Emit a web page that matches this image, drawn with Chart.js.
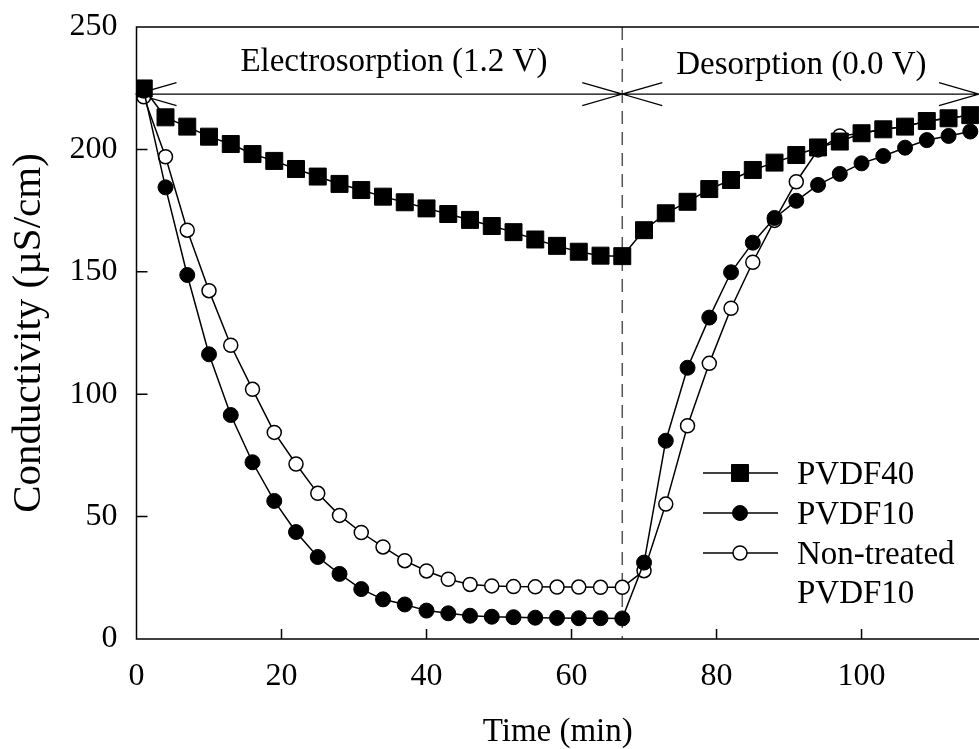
<!DOCTYPE html>
<html>
<head>
<meta charset="utf-8">
<script src="https://cdn.jsdelivr.net/npm/chart.js@4.4.0/dist/chart.umd.min.js"></script>
<style>
  html, body { margin: 0; padding: 0; background: #fff; overflow: hidden; }
  canvas { display: block; }
</style>
</head>
<body>
<canvas id="conductivityChart" width="979" height="749"></canvas>
<script>
// --- data ---
const times = [1, 4, 7, 10, 13, 16, 19, 22, 25, 28, 31, 34, 37, 40, 43, 46, 49, 52, 55, 58, 61, 64, 67,
               70, 73, 76, 79, 82, 85, 88, 91, 94, 97, 100, 103, 106, 109, 112, 115];

const pvdf40 = [224.9, 213.1, 209.3, 205.2, 202.2, 198.1, 195.3, 192, 188.9, 185.9, 183.4, 180.7, 178.4, 175.9,
                173.6, 171.2, 168.7, 166.2, 163.2, 160.6, 158.2, 156.6, 156.4,
                167, 173.9, 178.6, 183.8, 187.5, 191.6, 194.6, 197.7, 200.8, 203.2, 206.6, 208.2, 209.3, 211.6, 212.7, 214];

const pvdf10 = [224, 184.5, 148.7, 116.3, 91.5, 72.2, 56.4, 43.7, 33.5, 26.6, 20.4, 16.2, 14.1, 11.6,
                10.5, 9.5, 9.1, 8.9, 8.7, 8.6, 8.5, 8.5, 8.4,
                31.2, 81, 110.8, 131.3, 149.8, 161.9, 172, 179, 185.5, 190, 194.3, 197.3, 200.7, 203.8, 205.5, 207.3];

const nonTreated = [221.5, 197, 167, 142.3, 120, 102, 84.4, 71.5, 59.5, 50.5, 43.5, 37.6, 32, 27.8,
                    24.4, 22.3, 21.7, 21.4, 21.3, 21.2, 21.2, 21.1, 21.1,
                    27.9, 55.1, 87.1, 112.6, 135.1, 153.9, 171, 186.8, 199.8, 205.5, 206.6, 208.2, 209.3, 211.6, 212.7, 214];

const xTicks = [0, 20, 40, 60, 80, 100];
const yTicks = [0, 50, 100, 150, 200, 250];

const switchTime = 67;          // potential switched off here (dashed line)
const arrowLevel = 222.6;       // conductivity level of the phase arrows
const phaseLabels = ['Electrosorption (1.2 V)', 'Desorption (0.0 V)'];
const phaseLabelTimes = [35.5, 91.7];

const seriesNames = [['PVDF40'], ['PVDF10'], ['Non-treated', 'PVDF10']];

const serif = "'Liberation Serif', 'Times New Roman', serif";

const toPoints = values => times.map((t, i) => ({ x: t, y: values[i] }));

// --- extra drawing: frame, inner ticks, phase arrows, legend ---
const figurePlugin = {
    id: 'figureExtras',
    beforeDatasetsDraw(chart) {
        const { ctx, chartArea, scales: { x, y } } = chart;
        const sx = x.getPixelForValue(switchTime);
        ctx.save();
        // dashed switch line
        ctx.strokeStyle = '#555';
        ctx.lineWidth = 1.5;
        ctx.setLineDash([13, 8]);
        ctx.beginPath();
        ctx.moveTo(sx, chartArea.top);
        ctx.lineTo(sx, chartArea.bottom);
        ctx.stroke();
        ctx.setLineDash([]);

        // phase arrows
        const ay = y.getPixelForValue(arrowLevel);
        const left = x.getPixelForValue(0);
        const right = chartArea.right;
        ctx.strokeStyle = '#000';
        ctx.lineWidth = 1.2;
        ctx.beginPath();
        ctx.moveTo(left, ay);
        ctx.lineTo(right, ay);
        const head = (tip, dir) => {
            ctx.moveTo(tip - dir * 40, ay - 11.5);
            ctx.lineTo(tip, ay);
            ctx.lineTo(tip - dir * 40, ay + 11.5);
        };
        head(left, -1);
        head(sx, 1);
        head(sx, -1);
        head(right, 1);
        ctx.stroke();

        ctx.fillStyle = '#000';
        ctx.font = '33px ' + serif;
        ctx.textAlign = 'center';
        ctx.textBaseline = 'alphabetic';
        ctx.fillText(phaseLabels[0], x.getPixelForValue(phaseLabelTimes[0]), 71);
        ctx.fillText(phaseLabels[1], x.getPixelForValue(phaseLabelTimes[1]), 74);
        ctx.restore();
    },
    afterDraw(chart) {
        const { ctx, chartArea, scales: { x, y } } = chart;
        ctx.save();
        ctx.strokeStyle = '#000';
        ctx.lineWidth = 1.5;
        ctx.beginPath();
        // frame (right side falls outside the picture)
        ctx.moveTo(chartArea.right, chartArea.top);
        ctx.lineTo(chartArea.left, chartArea.top);
        ctx.lineTo(chartArea.left, chartArea.bottom);
        ctx.lineTo(chartArea.right, chartArea.bottom);
        // inner ticks
        xTicks.forEach(v => {
            const px = x.getPixelForValue(v);
            ctx.moveTo(px, chartArea.bottom);
            ctx.lineTo(px, chartArea.bottom - 10);
        });
        yTicks.forEach(v => {
            const py = y.getPixelForValue(v);
            ctx.moveTo(chartArea.left, py);
            ctx.lineTo(chartArea.left + 11, py);
        });
        ctx.stroke();

        // legend
        const rows = [473, 513, 553];
        ctx.font = '33px ' + serif;
        ctx.textAlign = 'left';
        ctx.textBaseline = 'alphabetic';
        chart.data.datasets.forEach((ds, i) => {
            const ly = rows[i];
            ctx.strokeStyle = '#000';
            ctx.lineWidth = 1.5;
            ctx.beginPath();
            ctx.moveTo(703, ly);
            ctx.lineTo(778, ly);
            ctx.stroke();
            ctx.fillStyle = ds.pointBackgroundColor;
            ctx.strokeStyle = ds.pointBorderColor;
            ctx.lineWidth = ds.pointBorderWidth;
            Chart.helpers.drawPoint(ctx, {
                pointStyle: ds.pointStyle,
                radius: ds.pointRadius,
                rotation: 0,
                borderWidth: ds.pointBorderWidth
            }, 740, ly);
            ctx.fillStyle = '#000';
            seriesNames[i].forEach((line, k) => {
                ctx.fillText(line, 797, ly + 11 + k * 39);
            });
        });
        ctx.restore();
    }
};

const ctx = document.getElementById('conductivityChart').getContext('2d');
new Chart(ctx, {
    type: 'line',
    data: {
        datasets: [{
            label: 'PVDF40',
            data: toPoints(pvdf40),
            borderColor: '#000',
            borderWidth: 1.5,
            pointStyle: 'rect',
            pointRadius: 12,
            pointBackgroundColor: '#000',
            pointBorderColor: '#000',
            pointBorderWidth: 1,
            order: 0
        }, {
            label: 'PVDF10',
            data: toPoints(pvdf10),
            borderColor: '#000',
            borderWidth: 1.5,
            pointStyle: 'circle',
            pointRadius: 7.5,
            pointBackgroundColor: '#000',
            pointBorderColor: '#000',
            pointBorderWidth: 1,
            order: 1
        }, {
            label: 'Non-treated PVDF10',
            data: toPoints(nonTreated),
            borderColor: '#000',
            borderWidth: 1.5,
            pointStyle: 'circle',
            pointRadius: 7,
            pointBackgroundColor: '#fff',
            pointBorderColor: '#000',
            pointBorderWidth: 1.5,
            order: 2
        }]
    },
    options: {
        responsive: false,
        animation: false,
        layout: { autoPadding: false, padding: { top: 27, right: 0, bottom: 0, left: 0 } },
        elements: { line: { tension: 0 } },
        plugins: {
            legend: { display: false },
            tooltip: { enabled: false }
        },
        scales: {
            x: {
                type: 'linear',
                min: 0,
                max: 116.2,
                afterBuildTicks: s => { s.ticks = xTicks.map(v => ({ value: v })); },
                afterFit: s => {
                    s.height = 110;
                    s.paddingLeft = 0; s.paddingRight = 0;
                },
                grid: { display: false, drawTicks: false },
                border: { display: false },
                ticks: { color: '#000', font: { family: serif, size: 32 }, padding: 18, maxRotation: 0 },
                title: {
                    display: true, text: 'Time (min)', color: '#000',
                    font: { family: serif, size: 33 }, padding: { top: 0, bottom: -3 }
                }
            },
            y: {
                min: 0,
                max: 250,
                afterBuildTicks: s => { s.ticks = yTicks.map(v => ({ value: v })); },
                afterFit: s => {
                    s.width = 136.5;
                    s.paddingTop = 0; s.paddingBottom = 0;
                },
                grid: { display: false, drawTicks: false },
                border: { display: false },
                ticks: { color: '#000', font: { family: serif, size: 32 }, padding: 19 },
                title: {
                    display: true, text: 'Conductivity (µS/cm)', color: '#000',
                    font: { family: serif, size: 41 }, padding: { top: 5, bottom: 0 }
                }
            }
        }
    },
    plugins: [figurePlugin]
});
</script>
</body>
</html>
